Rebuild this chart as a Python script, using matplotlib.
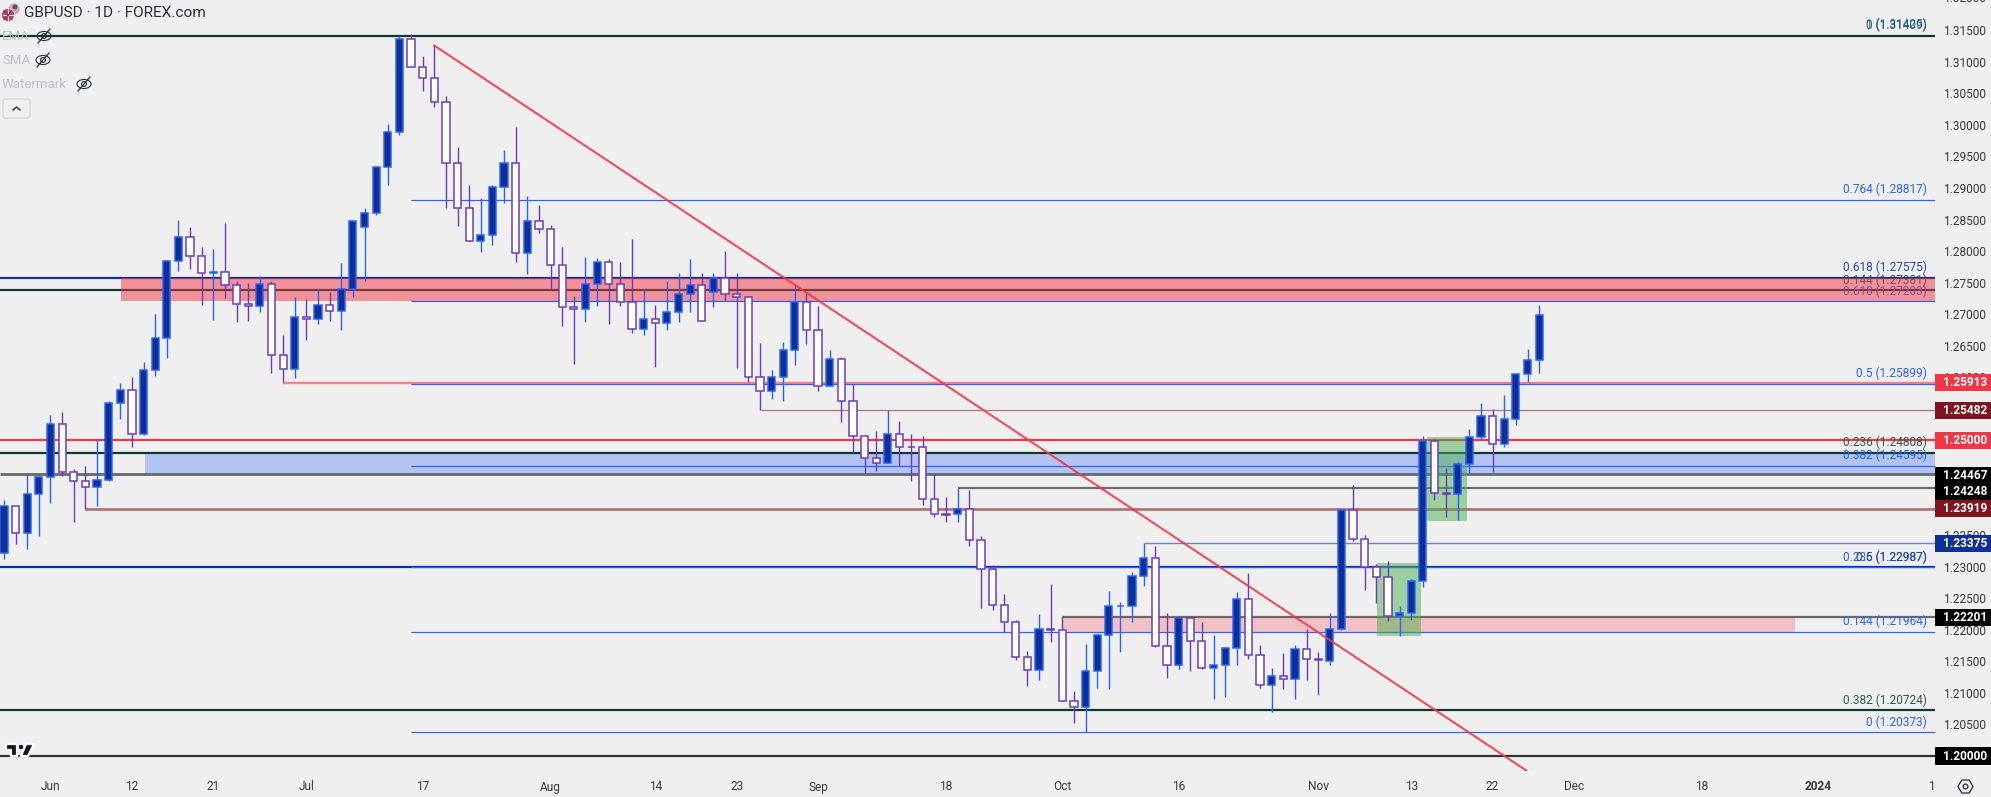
import numpy as np
import matplotlib
matplotlib.use("Agg")
import matplotlib.pyplot as plt
from matplotlib.patches import Rectangle, Ellipse, Circle, Polygon, FancyBboxPatch
from matplotlib.lines import Line2D
from matplotlib.transforms import Affine2D, Bbox, TransformedBbox, blended_transform_factory
from matplotlib.ticker import FixedLocator, FuncFormatter

plt.rcParams['font.family'] = ['Roboto', 'DejaVu Sans']

# ---- data -----------------------------------------------------------------
first_bar = -4          # bar 0 is 1 Jun 2023; one bar per weekday
opens = [1.2322,1.2396,1.2354,1.2415,
 1.2442,1.2526,1.2450,1.2435,1.2426,1.2437,1.2560,1.2580,1.2511,1.2611,
 1.2663,1.2784,1.2823,1.2792,1.2765,1.2767,1.2747,1.2716,1.2713,1.2748,
 1.2635,1.2613,1.2696,1.2692,1.2714,1.2705,1.2740,1.2838,1.2861,1.2933,
 1.2988,1.3136,1.3091,1.3074,1.3036,1.2939,1.2868,1.2816,1.2825,1.2902,
 1.2940,1.2797,1.2848,1.2835,1.2778,1.2711,1.2708,1.2748,1.2783,1.2748,
 1.2719,1.2676,1.2693,1.2686,1.2704,1.2732,1.2747,1.2736,1.2757,1.2732,
 1.2727,1.2601,1.2579,1.2601,1.2644,1.2720,1.2675,1.2587,1.2629,1.2563,
 1.2507,1.2472,1.2465,1.2510,1.2490,1.2489,1.2408,1.2383,1.2383,1.2392,
 1.2343,1.2297,1.2240,1.2212,1.2157,1.2136,1.2202,1.2199,1.2087,1.2077,
 1.2134,1.2191,1.2237,1.2237,1.2286,1.2313,1.2175,1.2144,1.2218,1.2183,
 1.2140,1.2144,1.2171,1.2248,1.2160,1.2112,1.2127,1.2122,1.2169,1.2153,
 1.2151,1.2201,1.2390,1.2344,1.2300,1.2284,1.2222,1.2226,1.2278,1.2499,
 1.2416,1.2415,1.2462,1.2505,1.2538,1.2494,1.2534,1.2605,1.2627]
highs = [1.2406,1.2396,1.2447,1.2445,
 1.2540,1.2545,1.2454,1.2460,1.2501,1.2562,1.2591,1.2601,1.2625,1.2700,
 1.2786,1.2849,1.2838,1.2806,1.2803,1.2844,1.2752,1.2749,1.2761,1.2753,
 1.2667,1.2727,1.2724,1.2740,1.2735,1.2781,1.2849,1.2868,1.2935,1.3001,
 1.3141,1.3144,1.3109,1.3127,1.3046,1.2965,1.2905,1.2884,1.2904,1.2960,
 1.2997,1.2888,1.2873,1.2841,1.2806,1.2729,1.2791,1.2789,1.2787,1.2783,
 1.2819,1.2738,1.2714,1.2753,1.2766,1.2787,1.2766,1.2766,1.2800,1.2765,
 1.2729,1.2654,1.2612,1.2656,1.2745,1.2733,1.2713,1.2643,1.2632,1.2589,
 1.2509,1.2515,1.2548,1.2531,1.2511,1.2507,1.2447,1.2410,1.2424,1.2421,
 1.2349,1.2303,1.2257,1.2216,1.2166,1.2225,1.2273,1.2221,1.2103,1.2177,
 1.2194,1.2261,1.2244,1.2291,1.2337,1.2333,1.2226,1.2220,1.2221,1.2212,
 1.2192,1.2171,1.2260,1.2290,1.2176,1.2139,1.2163,1.2176,1.2201,1.2164,
 1.2227,1.2390,1.2429,1.2350,1.2304,1.2309,1.2238,1.2280,1.2507,1.2502,
 1.2456,1.2466,1.2518,1.2559,1.2550,1.2572,1.2605,1.2645,1.2715]
lows = [1.2312,1.2336,1.2328,1.2349,
 1.2401,1.2443,1.2370,1.2392,1.2396,1.2435,1.2534,1.2489,1.2509,1.2602,
 1.2630,1.2769,1.2772,1.2715,1.2691,1.2726,1.2687,1.2690,1.2704,1.2607,
 1.2592,1.2599,1.2659,1.2685,1.2690,1.2675,1.2727,1.2752,1.2857,1.2905,
 1.2984,1.3091,1.3053,1.3029,1.2868,1.2840,1.2816,1.2799,1.2810,1.2877,
 1.2783,1.2764,1.2829,1.2742,1.2681,1.2621,1.2687,1.2713,1.2685,1.2713,
 1.2671,1.2667,1.2617,1.2675,1.2688,1.2704,1.2689,1.2712,1.2721,1.2615,
 1.2592,1.2548,1.2566,1.2562,1.2620,1.2653,1.2578,1.2587,1.2530,1.2482,
 1.2448,1.2452,1.2465,1.2460,1.2436,1.2398,1.2379,1.2371,1.2371,1.2333,
 1.2235,1.2231,1.2196,1.2152,1.2111,1.2120,1.2181,1.2087,1.2053,1.2038,
 1.2108,1.2106,1.2164,1.2213,1.2270,1.2173,1.2124,1.2138,1.2134,1.2138,
 1.2090,1.2094,1.2144,1.2154,1.2108,1.2070,1.2106,1.2090,1.2120,1.2097,
 1.2144,1.2200,1.2340,1.2263,1.2243,1.2214,1.2190,1.2215,1.2267,1.2405,
 1.2378,1.2374,1.2448,1.2501,1.2450,1.2489,1.2524,1.2592,1.2607]
closes = [1.2396,1.2354,1.2415,1.2442,
 1.2526,1.2450,1.2435,1.2426,1.2437,1.2560,1.2580,1.2511,1.2611,1.2663,
 1.2784,1.2823,1.2792,1.2765,1.2767,1.2747,1.2716,1.2713,1.2748,1.2635,
 1.2613,1.2696,1.2692,1.2714,1.2705,1.2740,1.2848,1.2861,1.2933,1.2988,
 1.3136,1.3091,1.3074,1.3036,1.2939,1.2868,1.2816,1.2825,1.2902,1.2940,
 1.2797,1.2848,1.2835,1.2778,1.2711,1.2708,1.2748,1.2783,1.2748,1.2719,
 1.2676,1.2693,1.2686,1.2704,1.2732,1.2747,1.2689,1.2757,1.2732,1.2727,
 1.2601,1.2579,1.2601,1.2644,1.2720,1.2675,1.2587,1.2629,1.2563,1.2507,
 1.2472,1.2465,1.2510,1.2490,1.2489,1.2408,1.2383,1.2382,1.2392,1.2343,
 1.2297,1.2240,1.2212,1.2157,1.2136,1.2202,1.2199,1.2087,1.2077,1.2134,
 1.2191,1.2237,1.2238,1.2286,1.2313,1.2175,1.2144,1.2218,1.2183,1.2140,
 1.2144,1.2171,1.2248,1.2160,1.2112,1.2127,1.2122,1.2169,1.2153,1.2152,
 1.2202,1.2390,1.2344,1.2300,1.2284,1.2222,1.2226,1.2278,1.2499,1.2416,
 1.2415,1.2462,1.2505,1.2538,1.2494,1.2534,1.2605,1.2627,1.2698]

tick_bars = [0, 7, 14, 22, 32, 43, 52, 59, 66, 77, 87, 97, 109, 117, 124, 131, 142, 152, 162]
tick_names = ['Jun','12','21','Jul','17','Aug','14','23','Sep','18','Oct','16','Nov','13','22','Dec','18','2024','15']
price_ticks = [1.205,1.21,1.215,1.22,1.225,1.23,1.235,1.24,1.245,1.25,1.255,1.26,1.265,1.27,
               1.275,1.28,1.285,1.29,1.295,1.30,1.305,1.31,1.315]

fib_levels = [1.31425, 1.28817, 1.27203, 1.25899, 1.24595, 1.22987, 1.21964, 1.20373]
fib_names  = ['1', '0.764', '0.618', '0.5', '0.382', '0.236', '0.144', '0']
fib2_levels = [1.31409, 1.27381, 1.24808, 1.20724]
fib2_names  = ['0', '0.144', '0.236', '0.382']
fib3_levels = [1.27575, 1.22987]
fib3_names  = ['0.618', '0.5']

level_tag_red   = [1.25913, 1.25000]
level_tag_maroon= [1.25482, 1.23919]
level_tag_black = [1.24467, 1.24248, 1.22201, 1.20000]
level_tag_navy  = [1.23375]

trend_bars   = [32.93, 126.96]
trend_prices = [1.31266, 1.19762]

# ---- figure ---------------------------------------------------------------
W, H = 1991, 797
PANE_W, PANE_H = 1935, 771
BG = '#EFEFEF'
fig = plt.figure(figsize=(W/100, H/100), dpi=100, facecolor=BG)
ax = fig.add_axes([0, 1-PANE_H/H, PANE_W/W, PANE_H/H], facecolor=BG)
BAR0, BARW = 50.5, 11.63
PX_PER = 6311.0
xmin, xmax = -BAR0/BARW, (PANE_W-BAR0)/BARW
ax.set_xlim(xmin, xmax)
ax.set_ylim(1.2-(PANE_H-756)/PX_PER, 1.2+756/PX_PER)
for s in ax.spines.values():
    s.set_visible(False)
px = 0.72   # one pixel in points

DKGREEN, NAVY, BLUE, RED, GRAY = '#0B3B2E', '#0D2F96', '#2962FF', '#F23645', '#6A6A6A'
MAROON, ROSE, BROWN, SLATE = '#7F1520', '#F0838D', '#AF7678', '#6F86C0'

def level(p, start, color, w, z=1.0):
    ax.hlines(p, start, xmax, color=color, lw=w*px, zorder=z)

# levels under the zones
level(1.31409, xmin, DKGREEN, 2.2)
level(1.27575, xmin, NAVY, 2.2)
level(1.27381, xmin, DKGREEN, 2.2)
level(1.25913, 20, ROSE, 2.4)
level(1.25482, 61, '#B87478', 1.3)
level(1.25, xmin, RED, 2.2)
level(1.24808, xmin, DKGREEN, 2.2)
level(1.24467, xmin, GRAY, 2.8)
level(1.24248, 78, GRAY, 2.2)
level(1.23919, 3, BROWN, 2.8)
level(1.23375, 94, SLATE, 1.4)
level(1.22987, xmin, NAVY, 2.2)
level(1.22201, 87, GRAY, 2.2)
level(1.20724, xmin, DKGREEN, 2.2)
level(1.20, xmin, '#333333', 2.2)
for p in fib_levels[1:]:
    level(p, 31, BLUE, 1.2, 1.1)

# fib labels, at a fixed pixel offset above each line
label_tr = blended_transform_factory(ax.transAxes, ax.transData)
def fib_label(names, prices, color, z=1.2):
    for n, p in zip(names, prices):
        ax.annotate(f'{n} ({p:.5f})', xy=(1926.7/PANE_W, p), xycoords=label_tr,
                    xytext=(0, 10.3*px), textcoords='offset points', ha='right', va='center',
                    fontsize=8.6, color=color, zorder=z)
fib_label(fib_names, fib_levels, BLUE)
fib_label(fib2_names, fib2_levels, '#2F5A50')
fib_label(fib3_names, fib3_levels, '#2747A8')

# zones
ax.add_patch(Rectangle((6.1, 1.27203), xmax-6.1, 1.27575-1.27203, fc=RED, alpha=0.5, lw=0, zorder=2))
ax.add_patch(Rectangle((8.1, 1.24467), xmax-8.1, 1.24780-1.24467, fc=BLUE, alpha=0.3, lw=0, zorder=2))
ax.add_patch(Rectangle((87, 1.21964), 150-87, 1.22201-1.21964, fc=RED, alpha=0.25, lw=0, zorder=2))
ax.add_patch(Rectangle((114.05, 1.2190), 117.8-114.05, 1.2306-1.2190, fc='#4CAF50', alpha=0.5, lw=0, zorder=2.1))
ax.add_patch(Rectangle((118.4, 1.2373), 121.8-118.4, 1.2505-1.2373, fc='#4CAF50', alpha=0.5, lw=0, zorder=2.1))

# candles
o, h, l, c = map(np.array, (opens, highs, lows, closes))
bars = first_bar + np.arange(len(o))
up = c >= o
UP_EDGE, UP_FILL, DN_EDGE, DN_FILL = BLUE, NAVY, '#6A3BB8', '#FFFFFF'
ax.vlines(bars[up], l[up], h[up], color=UP_EDGE, lw=1.4*px, zorder=3)
ax.vlines(bars[~up], l[~up], h[~up], color=DN_EDGE, lw=1.4*px, zorder=3)
bw = 7.2/BARW
ax.bar(bars[up], (c-o)[up], bottom=o[up], width=bw, color=UP_FILL, edgecolor=UP_EDGE, linewidth=1.5*px, zorder=3.1)
ax.bar(bars[~up], (c-o)[~up], bottom=o[~up], width=bw, color=DN_FILL, edgecolor=DN_EDGE, linewidth=1.5*px, zorder=3.1)

# trend line
ax.plot(trend_bars, trend_prices, color=RED, lw=2.1*px, alpha=0.88, zorder=4, solid_capstyle='butt')

# axes ticks
ax.xaxis.set_major_locator(FixedLocator(tick_bars))
ax.set_xticklabels(tick_names)
ax.yaxis.tick_right()
ax.yaxis.set_major_locator(FixedLocator(price_ticks))
ax.yaxis.set_major_formatter(FuncFormatter(lambda v, _: f'{v:.5f}'))
ax.tick_params(axis='y', length=0, pad=8*px, labelsize=8.6, labelcolor='#3A3A3A')
ax.tick_params(axis='x', length=0, pad=9.5*px, labelsize=8.6, labelcolor='#3A3A3A')
clip = TransformedBbox(Bbox([[0, 0], [PANE_W/W, 1]]), fig.transFigure)
for t, name in zip(ax.get_xticklabels(), tick_names):
    t.set_clip_box(clip)
    t.set_clip_on(True)
    if name == '2024':
        t.set_fontweight('bold')
ax.annotate('1.32000', xy=(1.0, 1.32), xycoords=label_tr, xytext=(8*px, 0), textcoords='offset points',
            ha='left', va='center', fontsize=8.6, color='#3A3A3A', annotation_clip=False)

# price tags on the right
def tag(p, fc, shift=0.0):
    yc = p - shift/PX_PER
    hh = 8.5/PX_PER
    ax.add_patch(Rectangle((1.0, yc-hh), 56/PANE_W, 2*hh, transform=label_tr, fc=fc, lw=0,
                           clip_on=False, zorder=8))
    ax.text(1.0+8/PANE_W, yc, f'{p:.5f}', transform=label_tr, color='white', fontsize=8.6,
            fontweight='bold', ha='left', va='center', zorder=9, clip_on=False)
for p in level_tag_red:
    tag(p, RED)
for p in level_tag_maroon:
    tag(p, MAROON)
tag(1.24467, '#000000', 1.0)
tag(1.24248, '#000000', 3.7)
tag(1.22201, '#000000')
tag(1.20000, '#000000')
for p in level_tag_navy:
    tag(p, NAVY)

# chrome drawn in pixel coordinates
pix = Affine2D().scale(1/W, -1/H).translate(0, 1) + fig.transFigure
def add(a):
    a.set_transform(pix)
    a.set_zorder(20)
    fig.add_artist(a)

fig.text(24/W, 1-13/H, 'GBPUSD · 1D · FOREX.com', fontsize=11.1, color='#2A2E39', va='center', ha='left', zorder=20)
for name, x, y in [('EMA', 2, 36), ('SMA', 2, 60), ('Watermark', 2, 84)]:
    fig.text(x/W, 1-y/H, name, fontsize=9.5, color='#BDBFC6', va='center', ha='left', zorder=20)

def eye(cx, cy):
    add(Ellipse((cx, cy), 14, 9, fc='none', ec='#2A2E39', lw=0.8))
    add(Circle((cx, cy), 2.4, fc='none', ec='#2A2E39', lw=0.8))
    add(Line2D([cx-6, cx+6], [cy+7, cy-7], color='#2A2E39', lw=0.9))
eye(44, 36); eye(43, 60); eye(84, 84)

add(FancyBboxPatch((3, 99), 27, 19, boxstyle='round,pad=0,rounding_size=2.5', fc=BG, ec='#D5D6DA', lw=0.9))
add(Line2D([13, 16.5, 20], [110, 107, 110], color='#2A2E39', lw=1.0))

# data-feed flags icon
add(Circle((14, 9), 5.5, fc='#E8A0A0', ec='#C8C8E0', lw=0.4))
add(Circle((15, 7), 2.5, fc='#3A55A0', lw=0))
add(Circle((8, 15), 6.5, fc='#C43A4A', ec='#EFEFEF', lw=0.5))
add(Line2D([3, 13], [15, 15], color='#F4D8DC', lw=0.9))
add(Line2D([8, 8], [9, 21], color='#F4D8DC', lw=0.9))
add(Line2D([4, 12], [11, 19], color='#3A55A0', lw=0.8))
add(Line2D([4, 12], [19, 11], color='#3A55A0', lw=0.8))

# logo
for pts in ([(6, 744), (17, 744), (17, 756), (11, 756), (11, 750), (6, 750)],
            [(26, 744), (34, 744), (28, 756), (21, 756)]):
    add(Polygon(pts, closed=True, fc='#131722', ec='white', lw=1.6, joinstyle='miter'))
add(Circle((21, 747), 2.7, fc='#131722', ec='white', lw=0.6))

# settings gear
gx, gy = 1965.5, 786.5
ang = np.deg2rad(np.arange(0, 360, 60))
add(Polygon(np.c_[gx+7.5*np.cos(ang), gy+7.5*np.sin(ang)], closed=True, fc='none', ec='#2A2E39', lw=0.9))
add(Circle((gx, gy), 2.4, fc='none', ec='#2A2E39', lw=0.9))

fig.savefig('out.png', dpi=100, facecolor=BG)
